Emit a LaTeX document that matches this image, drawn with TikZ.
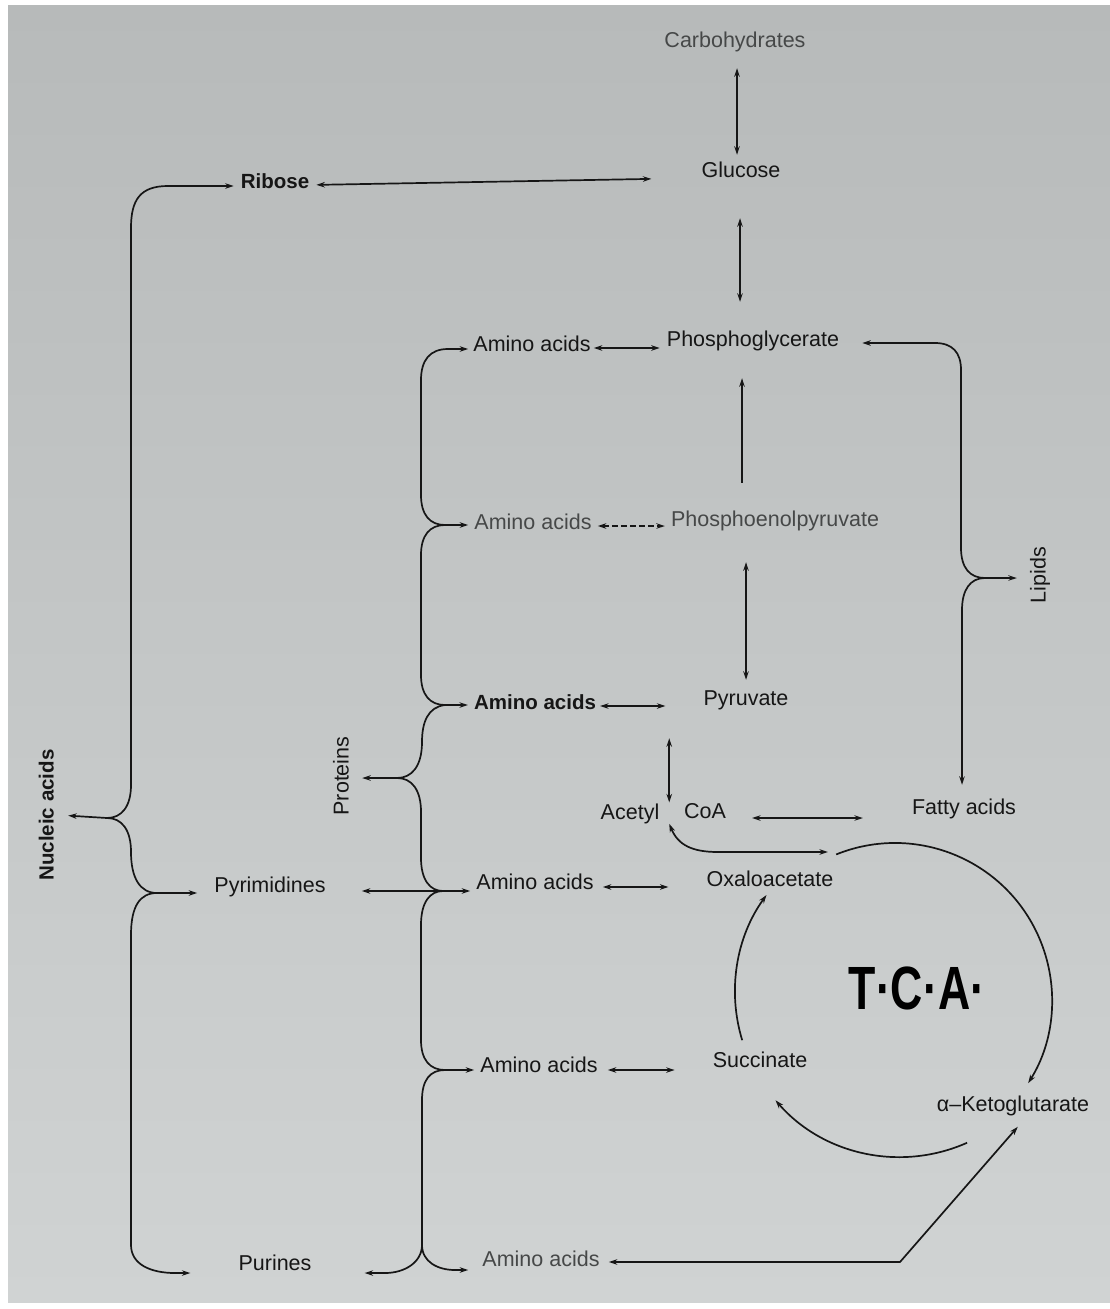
\documentclass[tikz,border=0pt]{standalone}
\usepackage{fontspec}
\usepackage{graphicx}
\setmainfont{Liberation Sans}
\usetikzlibrary{arrows.meta,calc}
\definecolor{paperT}{HTML}{B7BABA}
\definecolor{paperB}{HTML}{D0D3D3}
\definecolor{ink}{HTML}{161616}
\definecolor{faint}{HTML}{464848}
\begin{document}
\begin{tikzpicture}[x=1pt,y=-1pt,
  >={Stealth[length=8.5pt,width=5.5pt]},
  lbl/.style={inner sep=0pt, text height=15.5pt, text depth=4.5pt, font=\fontsize{21.5}{24}\selectfont, text=ink},
  faded/.style={lbl, text=faint},
  heavy/.style={font=\fontsize{20.5}{24}\selectfont\bfseries},
  conn/.style={draw=ink, line width=1.7pt},
  bi/.style={conn,<->},
  one/.style={conn,->}]
\useasboundingbox (0,0) rectangle (1110,1309);
\fill[white] (0,0) rectangle (1110,1309);
\shade[top color=paperT, bottom color=paperB] (8,5) rectangle (1110,1302);

% ---------- nodes ----------
\node[faded] (carb) at (735,42) {Carbohydrates};
\node[lbl] (glu) at (741,172) {Glucose};
\node[lbl,heavy] (rib) at (275,183) {Ribose};
\node[lbl] (pg) at (753,341) {Phosphoglycerate};
\node[lbl] (aa1) at (532,346) {Amino acids};
\node[faded] (pep) at (775,521) {Phosphoenolpyruvate};
\node[faded] (aa2) at (533,524) {Amino acids};
\node[lbl] (pyr) at (746,700) {Pyruvate};
\node[lbl,heavy] (aa3) at (535,704) {Amino acids};
\node[lbl] (acetyl) at (630,814) {Acetyl};
\node[lbl] (coa) at (705,813) {CoA};
\node[lbl] (fatty) at (964,809) {Fatty acids};
\node[lbl] (oaa) at (770,881) {Oxaloacetate};
\node[lbl] (aa4) at (535,884) {Amino acids};
\node[lbl] (pyrim) at (270,887) {Pyrimidines};
\node[lbl] (succ) at (760,1062) {Succinate};
\node[lbl] (aa5) at (539,1067) {Amino acids};
\node[lbl] (akg) at (1013,1106) {α–Ketoglutarate};
\node[faded] (aa6) at (541,1261) {Amino acids};
\node[lbl] (purines) at (275,1265) {Purines};
\node[lbl,rotate=90] (lipids) at (1040,575) {Lipids};
\node[lbl,rotate=90] (proteins) at (343,776) {Proteins};
\node[lbl,heavy,rotate=90] (nucleic) at (48,815) {Nucleic acids};
\node[inner sep=0pt, text=black, font=\fontsize{47}{50}\selectfont\bfseries] (tca) at (917,988) {\scalebox{0.95}[1.3]{T·C·A·}};

% ---------- named points ----------
\coordinate (Ntip) at (107,818);
\coordinate (Ptip) at (157,893);
\coordinate (T2) at (445,525);
\coordinate (T3) at (445,705);
\coordinate (Pr) at (397,778);
\coordinate (T4) at (443,891);
\coordinate (T5) at (445,1070);
\coordinate (F) at (422,1245);
\coordinate (Lt) at (985,578);
\coordinate (Oc) at (895,1000);
\coordinate (Ic) at (900,992);
\coordinate (oaaHook) at (828,852);
\coordinate (akbend) at (900,1262);
\coordinate (acgap) at ($(acetyl.north east)!0.4!(coa.north west)$);
\coordinate (acbot) at ($(acetyl.south east)!0.4!(coa.south west)$);

% ---------- vertical main chain ----------
\draw[bi, shorten <=16pt, shorten >=7pt] ([xshift=2pt]carb.south) -- ([xshift=2pt]carb.south |- glu.north);
\draw[bi, shorten <=36pt, shorten >=29pt] ([xshift=-1pt]glu.south) -- ([xshift=-1pt]glu.south |- pg.north);
\draw[one, shorten <=28pt, shorten >=27pt] ([xshift=-33pt]pep.north) -- ([xshift=-33pt]pep.north |- pg.south);
\draw[bi, shorten <=31pt, shorten >=10pt] ([xshift=-29pt]pep.south) -- ([xshift=-29pt]pep.south |- pyr.north);
\draw[bi, shorten <=28pt, shorten >=1pt] (acgap |- pyr.south) -- (acgap);

% ---------- horizontal arrows ----------
\draw[bi, shorten <=7pt, shorten >=50pt] ([yshift=-2pt]rib.east) -- ([yshift=-6pt]glu.west);
\draw[bi, shorten <=3pt, shorten >=7pt] ([yshift=-2pt]aa1.east) -- ([yshift=-2pt]aa1.east -| pg.west);
\draw[bi, dash pattern=on 6pt off 3pt, shorten <=6pt, shorten >=6pt] ([yshift=-2pt]aa2.east) -- ([yshift=-2pt]aa2.east -| pep.west);
\draw[bi, shorten <=4pt, shorten >=38pt] ([yshift=-2pt]aa3.east) -- ([yshift=-2pt]aa3.east -| pyr.west);
\draw[bi, shorten <=9pt, shorten >=38pt] ([yshift=-3pt]aa4.east) -- ([yshift=-3pt]aa4.east -| oaa.west);
\draw[bi, shorten <=10pt, shorten >=38pt] ([yshift=-3pt]aa5.east) -- ([yshift=-3pt]aa5.east -| succ.west);
\draw[bi, shorten <=26pt, shorten >=49pt] ([yshift=-5pt]coa.east) -- ([yshift=-5pt]coa.east -| fatty.west);
\draw[bi, shorten <=9pt, shorten >=14pt] ([yshift=-1pt]aa6.east) -- (akbend) -- ([xshift=14pt]akg.south);

% ---------- Nucleic acids brace ----------
\draw[one, shorten >=10pt] (Ntip) -- (nucleic.south);
\draw[one, shorten >=7pt] (Ntip) .. controls (122,818) and (131,806) .. (131,785) -- (131,228)
  .. controls (131,200) and (140,186) .. (168,186) -- ([yshift=-3pt]rib.west);
\draw[conn] (Ntip) .. controls (122,818) and (131,830) .. (131,852)
  .. controls (131,878) and (140,893) .. (Ptip);
\draw[one, shorten >=17pt] (Ptip) -- ([yshift=-6pt]pyrim.west);
\draw[one, shorten >=48pt] (Ptip) .. controls (140,893) and (131,906) .. (131,935) -- (131,1245)
  .. controls (131,1264) and (150,1273) .. (175,1273) -- ([yshift=-8pt]purines.west);

% ---------- Proteins brace ----------
\draw[one, shorten >=5pt] (T2) .. controls (430,525) and (421,515) .. (421,495) -- (421,380)
  .. controls (421,360) and (430,349) .. (448,349) -- ([yshift=-3pt]aa1.west);
\draw[one, shorten >=6pt] (T2) -- ([yshift=-1pt]aa2.west);
\draw[conn] (T2) .. controls (430,525) and (421,535) .. (421,555) -- (421,675)
  .. controls (421,695) and (430,705) .. (T3);
\draw[one, shorten >=6pt] (T3) -- ([yshift=-1pt]aa3.west);
\draw[conn] (T3) .. controls (428,707) and (422,722) .. (422,742)
  .. controls (422,766) and (412,778) .. (Pr);
\draw[one, shorten >=9pt] (Pr) -- ([yshift=-2pt]proteins.south);
\draw[conn] (Pr) .. controls (412,778) and (421,790) .. (421,812) -- (421,858)
  .. controls (421,880) and (430,891) .. (T4);
\draw[one, shorten >=6pt] (T4) -- ([yshift=-7pt]aa4.west);
\draw[one, shorten >=36pt] (T4) -- ([yshift=-4pt]pyrim.east);
\draw[conn] (T4) .. controls (430,891) and (421,902) .. (421,925) -- (421,1040)
  .. controls (421,1060) and (430,1070) .. (T5);
\draw[one, shorten >=6pt] (T5) -- ([yshift=-3pt]aa5.west);
\draw[conn] (T5) .. controls (430,1070) and (422,1080) .. (422,1100) -- (F);
\draw[one, shorten >=53pt] (F) .. controls (422,1262) and (405,1273) .. (385,1273) -- ([yshift=-8pt]purines.east);
\draw[one, shorten >=14pt] (F) .. controls (422,1262) and (438,1270) .. (455,1270) -- ([yshift=-9pt]aa6.west);

% ---------- Lipids brace ----------
\draw[one, shorten >=23pt] (Lt) .. controls (970,578) and (961,568) .. (961,548) -- (961,370)
  .. controls (961,352) and (952,343) .. (935,343) -- ([yshift=-2pt]pg.east);
\draw[one, shorten >=13pt] (Lt) -- ([yshift=-3pt]lipids.north);
\draw[one, shorten >=14pt] (Lt) .. controls (970,578) and (962,590) .. (962,610) -- ([xshift=-2pt]fatty.north);

% ---------- TCA cycle ----------
\draw[bi] (acbot) .. controls (678,845) and (692,852) .. (718,852) -- (oaaHook);
\draw[one] ($(Oc)+(248:157)$) arc[start angle=248, end angle=392, radius=157];
\draw[one] ($(Ic)+(163:165)$) arc[start angle=163, end angle=216, radius=165];
\draw[one] ($(Ic)+(66:165)$) arc[start angle=66, end angle=139, radius=165];
\end{tikzpicture}
\end{document}
